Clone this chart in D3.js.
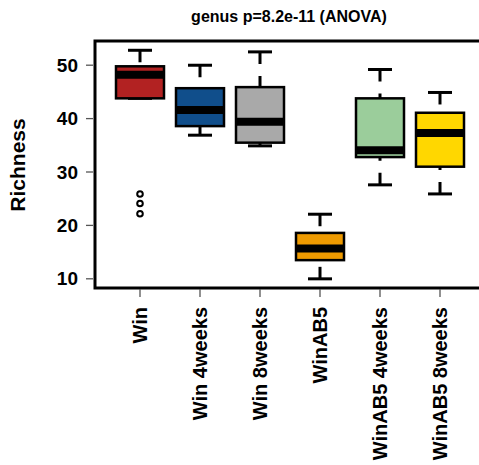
<!DOCTYPE html>
<html><head><meta charset="utf-8">
<script src="https://cdn.jsdelivr.net/npm/d3@7/dist/d3.min.js"></script>
<style>body{margin:0;background:#fff}svg{display:block}text{font-family:"Liberation Sans",Arial,Helvetica,sans-serif;font-weight:bold;fill:#000}</style>
</head><body><svg id="c" width="479" height="465"></svg>
<script>
const categories = ["Win","Win 4weeks","Win 8weeks","WinAB5","WinAB5 4weeks","WinAB5 8weeks"];
const whiskerLow  = [43.7, 36.8, 34.8,  9.9, 27.5, 25.8];
const q1          = [43.7, 38.5, 35.4, 13.4, 32.7, 30.9];
const medians     = [48.1, 41.5, 39.3, 15.6, 34.0, 37.2];
const q3          = [49.7, 45.6, 45.8, 18.5, 43.7, 41.0];
const whiskerHigh = [52.7, 49.9, 52.4, 22.0, 49.1, 44.8];
const outliers    = [[25.8, 24.0, 22.1], [], [], [], [], []];
const colors = ["#B22222","#104E8B","#A9A9A9","#EE9A00","#9BCD9B","#FFD700"];
const yTicks = [10,20,30,40,50];
const title = "genus p=8.2e-11 (ANOVA)";
const yLabel = "Richness";

const svg = d3.select("#c");
const L = 95, R = 482, T = 41, B = 288;
const x = d3.scaleBand().domain(categories).range([110, 470]).paddingInner(0.2).paddingOuter(0.1);
const y = d3.scaleLinear().domain([10, 50]).range([278.3, 64.7]);
const bw = x.bandwidth();

const data = categories.map((c, i) => ({c, lo: whiskerLow[i], q1: q1[i], med: medians[i], q3: q3[i], hi: whiskerHigh[i], out: outliers[i], col: colors[i]}));

const g = svg.append("g");
data.forEach(d => {
  const cx = x(d.c) + bw / 2;
  [[d.hi, d.q3], [d.lo, d.q1]].forEach(([a, b]) => {
    if (a !== b) g.append("line").attr("x1", cx).attr("x2", cx).attr("y1", y(a)).attr("y2", y(b))
      .attr("stroke", "#000").attr("stroke-width", 3).attr("stroke-dasharray", "12,12");
  });
  [d.hi, d.lo].forEach(v => {
    g.append("line").attr("x1", cx - bw / 4).attr("x2", cx + bw / 4).attr("y1", y(v)).attr("y2", y(v))
      .attr("stroke", "#000").attr("stroke-width", 3);
  });
  g.append("rect").attr("x", x(d.c)).attr("width", bw).attr("y", y(d.q3)).attr("height", y(d.q1) - y(d.q3))
    .attr("fill", d.col).attr("stroke", "#000").attr("stroke-width", 2.5);
  g.append("line").attr("x1", x(d.c) + 1).attr("x2", x(d.c) + bw - 1).attr("y1", y(d.med)).attr("y2", y(d.med))
    .attr("stroke", "#000").attr("stroke-width", 8);
  d.out.forEach(v => {
    g.append("circle").attr("cx", cx).attr("cy", y(v)).attr("r", 2.8)
      .attr("fill", "none").attr("stroke", "#000").attr("stroke-width", 2);
  });
});

svg.append("rect").attr("x", L).attr("y", T).attr("width", R - L).attr("height", B - T)
  .attr("fill", "none").attr("stroke", "#000").attr("stroke-width", 3);

const ya = svg.append("g").attr("transform", `translate(${L - 2},0)`)
  .call(d3.axisLeft(y).tickValues(yTicks).tickSize(7).tickPadding(8).tickFormat(d3.format("d")));
ya.select(".domain").remove();
ya.selectAll(".tick line").attr("stroke", "#555").attr("stroke-width", 1.3);
ya.selectAll(".tick text").style("font-size", "19px").attr("dy", "0.35em");

const xa = svg.append("g").attr("transform", `translate(0,${B + 1})`)
  .call(d3.axisBottom(x).tickSize(8).tickFormat(""));
xa.select(".domain").remove();
xa.selectAll(".tick line").attr("stroke", "#555").attr("stroke-width", 1.3);
categories.forEach(c => {
  const cx = x(c) + bw / 2;
  svg.append("text").attr("transform", `translate(${cx + 7},307) rotate(-90)`)
    .attr("text-anchor", "end").style("font-size", "20px").text(c);
});

svg.append("text").attr("x", 289).attr("y", 21.5).attr("text-anchor", "middle").style("font-size", "16px").text(title);
svg.append("text").attr("transform", "translate(25,165) rotate(-90)").attr("text-anchor", "middle").style("font-size", "21px").text(yLabel);
</script></body></html>
